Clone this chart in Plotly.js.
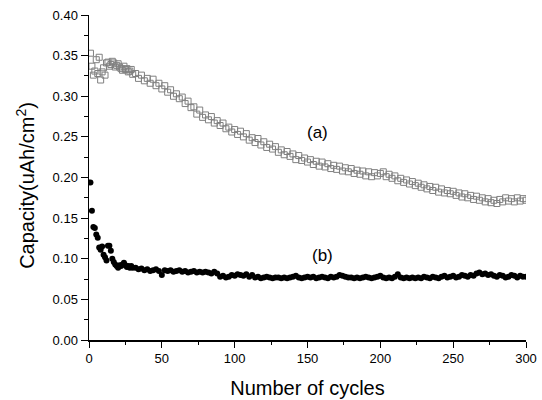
<!DOCTYPE html>
<html>
<head>
<meta charset="utf-8">
<script src="https://cdn.plot.ly/plotly-3.0.1.min.js"></script>
<style>html,body{margin:0;padding:0;background:#fff;}#chart{width:542px;height:400px;}</style>
</head>
<body>
<div id="chart"></div>
<script>
// Cycle numbers for both series
const cycles = [1,2,3,4,5,6,7,8,9,10,11,12,13,14,15,16,17,18,19,20,21,22,23,24,25,26,27,28,29,30,
32,34,36,38,40,42,44,46,48,50,52,54,56,58,60,62,64,66,68,70,72,74,76,78,80,82,84,86,88,90,92,94,96,98,100,
102,104,106,108,110,112,114,116,118,120,122,124,126,128,130,132,134,136,138,140,142,144,146,148,150,
152,154,156,158,160,162,164,166,168,170,172,174,176,178,180,182,184,186,188,190,192,194,196,198,200,
202,204,206,208,210,212,214,216,218,220,222,224,226,228,230,232,234,236,238,240,242,244,246,248,250,
252,254,256,258,260,262,264,266,268,270,272,274,276,278,280,282,284,286,288,290,292,294,296,298,300];

// Series (a): open squares
const capacityA = [0.353,0.337,0.326,0.331,0.345,0.328,0.348,0.320,0.330,0.335,0.326,0.341,0.342,0.337,0.339,0.343,0.341,0.336,0.338,0.340,0.336,0.334,0.332,0.337,0.333,0.334,0.330,0.331,0.333,0.327,
0.328,0.322,0.326,0.319,0.322,0.316,0.321,0.313,0.316,0.309,0.313,0.305,0.308,0.300,0.303,0.297,0.299,0.291,0.294,0.286,0.287,0.278,0.283,0.274,0.277,0.271,0.275,0.267,0.270,0.264,0.267,0.260,0.262,0.256,0.259,
0.253,0.257,0.250,0.254,0.246,0.249,0.243,0.248,0.240,0.244,0.237,0.241,0.235,0.238,0.231,0.234,0.228,0.232,0.226,0.229,0.222,0.227,0.221,0.224,0.219,
0.222,0.216,0.220,0.214,0.219,0.213,0.217,0.211,0.215,0.210,0.214,0.208,0.212,0.207,0.211,0.205,0.209,0.204,0.208,0.202,0.207,0.201,0.206,0.202,0.205,
0.207,0.201,0.204,0.199,0.202,0.196,0.199,0.194,0.197,0.192,0.195,0.190,0.193,0.188,0.191,0.186,0.189,0.184,0.188,0.182,0.186,0.181,0.184,0.180,0.183,
0.178,0.181,0.176,0.180,0.175,0.178,0.173,0.177,0.172,0.175,0.170,0.174,0.169,0.172,0.168,0.173,0.170,0.175,0.171,0.174,0.170,0.175,0.171,0.174,0.172];

// Series (b): filled circles
const capacityB = [0.194,0.159,0.139,0.138,0.130,0.126,0.114,0.111,0.115,0.105,0.102,0.098,0.116,0.116,0.110,0.100,0.096,0.093,0.091,0.089,0.092,0.091,0.093,0.095,0.092,0.090,0.091,0.089,0.091,0.089,
0.089,0.087,0.088,0.086,0.087,0.085,0.086,0.087,0.085,0.080,0.086,0.085,0.086,0.084,0.085,0.086,0.084,0.085,0.083,0.084,0.085,0.083,0.084,0.083,0.084,0.083,0.082,0.084,0.082,0.078,0.079,0.077,0.078,0.080,0.079,
0.081,0.080,0.079,0.081,0.078,0.080,0.077,0.078,0.076,0.077,0.078,0.077,0.076,0.077,0.077,0.076,0.077,0.076,0.077,0.078,0.079,0.077,0.076,0.077,0.078,
0.077,0.078,0.076,0.077,0.078,0.077,0.076,0.078,0.077,0.078,0.080,0.079,0.078,0.077,0.077,0.076,0.077,0.076,0.077,0.078,0.077,0.076,0.077,0.078,0.079,
0.077,0.076,0.077,0.076,0.078,0.081,0.077,0.076,0.077,0.076,0.077,0.076,0.077,0.076,0.078,0.077,0.076,0.078,0.077,0.076,0.078,0.079,0.077,0.078,0.079,
0.077,0.078,0.080,0.079,0.078,0.080,0.079,0.082,0.083,0.081,0.082,0.080,0.081,0.079,0.078,0.080,0.079,0.077,0.078,0.080,0.079,0.077,0.079,0.078,0.078];

const seriesLabels = ['(a)', '(b)'];
const labelX = [157, 160];
const labelY = [0.256, 0.1046];

const FONT = 'Liberation Sans, Arial, Helvetica, sans-serif';

const traces = [
  {x: cycles, y: capacityA, type: 'scatter', mode: 'markers', name: seriesLabels[0],
   marker: {symbol: 'square-open', size: 6, color: '#808080', line: {width: 1, color: '#808080'}}},
  {x: cycles, y: capacityB, type: 'scatter', mode: 'markers', name: seriesLabels[1],
   marker: {symbol: 'circle', size: 6, color: '#000000'}}
];

const annots = seriesLabels.map((t, i) => ({
  x: labelX[i], y: labelY[i], xref: 'x', yref: 'y', text: t, showarrow: false,
  font: {family: FONT, size: 17, color: '#000'}
}));
annots.push({
  x: -0.146, y: 0.475, xref: 'paper', yref: 'paper', xanchor: 'center', yanchor: 'middle',
  text: 'Capacity(uAh/cm<sup>2</sup>)', textangle: -90, showarrow: false,
  font: {family: FONT, size: 20, color: '#000'}
});

const layout = {
  width: 542, height: 400,
  margin: {l: 89, r: 16, t: 15, b: 60},
  paper_bgcolor: '#fff', plot_bgcolor: '#fff',
  showlegend: false,
  font: {family: FONT, color: '#000', size: 13},
  xaxis: {
    range: [0, 300], dtick: 50, tick0: 0,
    ticks: 'outside', ticklen: 6, tickwidth: 1, tickcolor: '#000',
    minor: {dtick: 25, ticks: 'outside', ticklen: 3, tickwidth: 1, tickcolor: '#000', showgrid: false},
    showline: true, linewidth: 1.5, linecolor: '#000',
    showgrid: false, zeroline: false,
    tickfont: {family: FONT, size: 13, color: '#000'},
    title: {text: 'Number of cycles', font: {family: FONT, size: 20, color: '#000'}, standoff: 16}
  },
  xaxis2: {
    overlaying: 'x', side: 'top', anchor: 'y', range: [0, 300], dtick: 25, tick0: 0,
    ticks: 'inside', ticklen: 5, tickwidth: 1, tickcolor: '#000',
    showticklabels: false, showline: true, linewidth: 1.5, linecolor: '#000',
    showgrid: false, zeroline: false
  },
  yaxis: {
    range: [0, 0.4], dtick: 0.05, tick0: 0, tickformat: '.2f',
    ticks: 'outside', ticklen: 7, tickwidth: 1, tickcolor: '#000',
    minor: {dtick: 0.025, ticks: 'outside', ticklen: 4, tickwidth: 1, tickcolor: '#000', showgrid: false},
    showline: true, linewidth: 1.5, linecolor: '#000',
    showgrid: false, zeroline: false,
    tickfont: {family: FONT, size: 13, color: '#000'}
  },
  yaxis2: {
    overlaying: 'y', side: 'right', anchor: 'x', range: [0, 0.4],
    ticks: '', showticklabels: false, showline: true, linewidth: 1.5, linecolor: '#000',
    showgrid: false, zeroline: false
  },
  annotations: annots
};

Plotly.newPlot('chart', traces, layout, {displayModeBar: false, staticPlot: true});
</script>
</body>
</html>
